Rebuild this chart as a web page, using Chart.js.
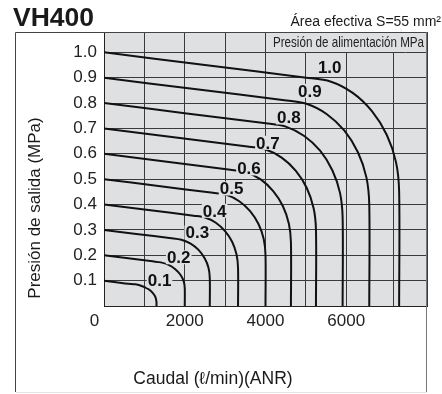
<!DOCTYPE html>
<html>
<head>
<meta charset="utf-8">
<script src="https://cdn.jsdelivr.net/npm/chart.js@4"></script>
<style>
  html, body { margin: 0; padding: 0; background: #fff; }
  canvas { display: block; }
</style>
</head>
<body>
<canvas id="flowChart" width="442" height="394"></canvas>
<script>
// Data (flow l/min, outlet pressure MPa)
const curve01 = [[0, 0.1], [300, 0.094], [600, 0.088], [781, 0.0855], [950, 0.078], [1095, 0.067], [1206, 0.052], [1276, 0.034], [1300, 0.015], [1300, 0]];
const curve02 = [[0, 0.2], [600, 0.188], [1200, 0.176], [1407, 0.172], [1600, 0.162], [1766, 0.145], [1893, 0.123], [1973, 0.098], [2000, 0.07], [2000, 0]];
const curve03 = [[0, 0.3], [800, 0.284], [1670, 0.267], [1916, 0.261], [2145, 0.246], [2342, 0.221], [2493, 0.188], [2588, 0.151], [2620, 0.11], [2620, 0]];
const curve04 = [[0, 0.4], [1100, 0.378], [2220, 0.356], [2505, 0.349], [2770, 0.328], [2998, 0.295], [3173, 0.253], [3283, 0.203], [3320, 0.15], [3320, 0]];
const curve05 = [[0, 0.5], [1350, 0.473], [2700, 0.446], [3037, 0.438], [3350, 0.413], [3619, 0.374], [3826, 0.323], [3956, 0.264], [4000, 0.2], [4000, 0]];
const curve06 = [[0, 0.6], [1560, 0.569], [3130, 0.537], [3519, 0.527], [3880, 0.499], [4191, 0.453], [4429, 0.394], [4579, 0.324], [4630, 0.25], [4630, 0]];
const curve07 = [[0, 0.7], [1780, 0.664], [3550, 0.629], [3990, 0.618], [4400, 0.585], [4752, 0.533], [5022, 0.465], [5192, 0.385], [5250, 0.3], [5250, 0]];
const curve08 = [[0, 0.8], [2000, 0.76], [4010, 0.72], [4502, 0.707], [4960, 0.67], [5353, 0.612], [5655, 0.535], [5845, 0.446], [5910, 0.35], [5910, 0]];
const curve09 = [[0, 0.9], [2240, 0.855], [4470, 0.811], [5014, 0.797], [5520, 0.756], [5955, 0.691], [6289, 0.606], [6499, 0.507], [6570, 0.4], [6570, 0]];
const curve10 = [[0, 1.0], [2500, 0.95], [5010, 0.9], [5606, 0.885], [6160, 0.84], [6636, 0.768], [7002, 0.675], [7232, 0.567], [7310, 0.45], [7310, 0]];

const curves = [curve01, curve02, curve03, curve04, curve05, curve06, curve07, curve08, curve09, curve10];

// Supply pressure labels on the curves
const labelText = ['0.1', '0.2', '0.3', '0.4', '0.5', '0.6', '0.7', '0.8', '0.9', '1.0'];
const labelX = [1375, 1850, 2310, 2740, 3160, 3590, 4060, 4580, 5100, 5590];
const labelY = [0.1, 0.192, 0.29, 0.375, 0.463, 0.542, 0.643, 0.743, 0.848, 0.942];

// Axes
const xGrid = [0, 1000, 2000, 3000, 4000, 5000, 6000, 7170, 8000];
const xLabels = [0, 2000, 4000, 6000];
const yGrid = [0, 0.1, 0.2, 0.3, 0.4, 0.5, 0.6, 0.7, 0.8, 0.9, 1.0];

const plotBg = '#dfe0e2';
const FONT = '"Liberation Sans", Arial, Helvetica, sans-serif';

// Titles, frame, labels
const decor = {
    id: 'decor',
    beforeDraw(chart) {
        const { ctx, chartArea: a } = chart;
        ctx.save();
        ctx.fillStyle = '#fff';
        ctx.fillRect(0, 0, chart.width, chart.height);
        ctx.fillStyle = plotBg;
        ctx.fillRect(a.left, a.top, a.right - a.left, a.bottom - a.top);
        ctx.restore();
    },
    afterDatasetsDraw(chart) {
        const { ctx, chartArea: a, scales } = chart;
        ctx.save();

        // legend header in the top row
        ctx.fillStyle = plotBg;
        ctx.fillRect(268, a.top + 1, a.right - 269, 19);
        ctx.font = '15px "Liberation Sans Narrow", ' + FONT;
        ctx.textAlign = 'right';
        ctx.textBaseline = 'alphabetic';
        const head = 'Presión de alimentación MPa';
        const w = ctx.measureText(head).width;
        const sx = Math.min(1, 151 / w);
        ctx.save();
        ctx.translate(a.right - 3, 47);
        ctx.scale(sx, 1);
        ctx.strokeStyle = plotBg;
        ctx.lineWidth = 3;
        ctx.strokeText(head, 0, 0);
        ctx.fillStyle = '#222';
        ctx.fillText(head, 0, 0);
        ctx.restore();

        // curve labels
        ctx.font = 'bold 17px ' + FONT;
        ctx.textAlign = 'center';
        ctx.textBaseline = 'middle';
        labelText.forEach((t, i) => {
            const px = scales.x.getPixelForValue(labelX[i]);
            const py = scales.y.getPixelForValue(labelY[i]);
            const tw = ctx.measureText(t).width;
            ctx.fillStyle = plotBg;
            ctx.fillRect(px - tw / 2 - 1, py - 7, tw + 2, 14);
            ctx.fillStyle = '#111';
            ctx.fillText(t, px, py + 1);
        });

        // frame
        ctx.strokeStyle = '#444';
        ctx.lineWidth = 1;
        ctx.beginPath();
        ctx.moveTo(15.5, 392);
        ctx.lineTo(15.5, a.top + 0.5);
        ctx.lineTo(a.right + 0.5, a.top + 0.5);
        ctx.stroke();
        ctx.strokeStyle = '#777';
        ctx.beginPath();
        ctx.moveTo(a.right - 0.5, a.top);
        ctx.lineTo(a.right - 0.5, 392);
        ctx.stroke();
        ctx.strokeStyle = '#e4e4e4';
        ctx.beginPath();
        ctx.moveTo(16, 392.5);
        ctx.lineTo(a.right, 392.5);
        ctx.stroke();

        // heading
        ctx.fillStyle = '#1a1a1a';
        ctx.textBaseline = 'alphabetic';
        ctx.textAlign = 'left';
        ctx.font = 'bold 26.5px ' + FONT;
        ctx.fillText('VH400', 13, 26);
        ctx.textAlign = 'right';
        ctx.font = '14px ' + FONT;
        ctx.fillText('Área efectiva S=55 mm²', 441, 26);

        // axis titles
        ctx.font = '17.5px ' + FONT;
        ctx.textAlign = 'center';
        ctx.textBaseline = 'middle';
        ctx.fillText('Caudal (ℓ/min)(ANR)', 213, 379);
        ctx.font = '17px ' + FONT;
        ctx.save();
        ctx.translate(35, 208);
        ctx.rotate(-Math.PI / 2);
        ctx.fillText('Presión de salida (MPa)', 0, 0);
        ctx.restore();

        ctx.restore();
    }
};

const ctx = document.getElementById('flowChart').getContext('2d');

new Chart(ctx, {
    type: 'line',
    data: {
        datasets: curves.map(c => ({
            data: c.map(p => ({ x: p[0], y: p[1] })),
            borderColor: '#111',
            borderWidth: 2,
            pointRadius: 0,
            fill: false,
            tension: 0.3
        }))
    },
    options: {
        responsive: false,
        animation: false,
        layout: { padding: { top: 32, right: 15, left: 0, bottom: 0 } },
        plugins: {
            legend: { display: false },
            tooltip: { enabled: false }
        },
        scales: {
            x: {
                type: 'linear',
                min: 0,
                max: 8000,
                afterBuildTicks: s => { s.ticks = xGrid.map(v => ({ value: v })); },
                afterFit: s => { s.height = 88; },
                grid: { color: '#3a3a3a', lineWidth: 1, drawTicks: false },
                border: { color: '#222', width: 1 },
                ticks: {
                    padding: 5,
                    color: '#222',
                    font: { size: 17, family: FONT },
                    maxRotation: 0,
                    autoSkip: false,
                    callback: v => xLabels.includes(v) ? (v === 0 ? '0    ' : String(v)) : ''
                }
            },
            y: {
                type: 'linear',
                min: 0,
                max: 1.08,
                afterBuildTicks: s => { s.ticks = yGrid.map(v => ({ value: v })); },
                afterFit: s => { s.width = 104; },
                grid: { color: '#3a3a3a', lineWidth: 1, drawTicks: false },
                border: { color: '#222', width: 1 },
                ticks: {
                    padding: 7,
                    color: '#222',
                    font: { size: 17, family: FONT },
                    autoSkip: false,
                    callback: v => v === 0 ? '' : v.toFixed(1)
                }
            }
        }
    },
    plugins: [decor]
});
</script>
</body>
</html>
